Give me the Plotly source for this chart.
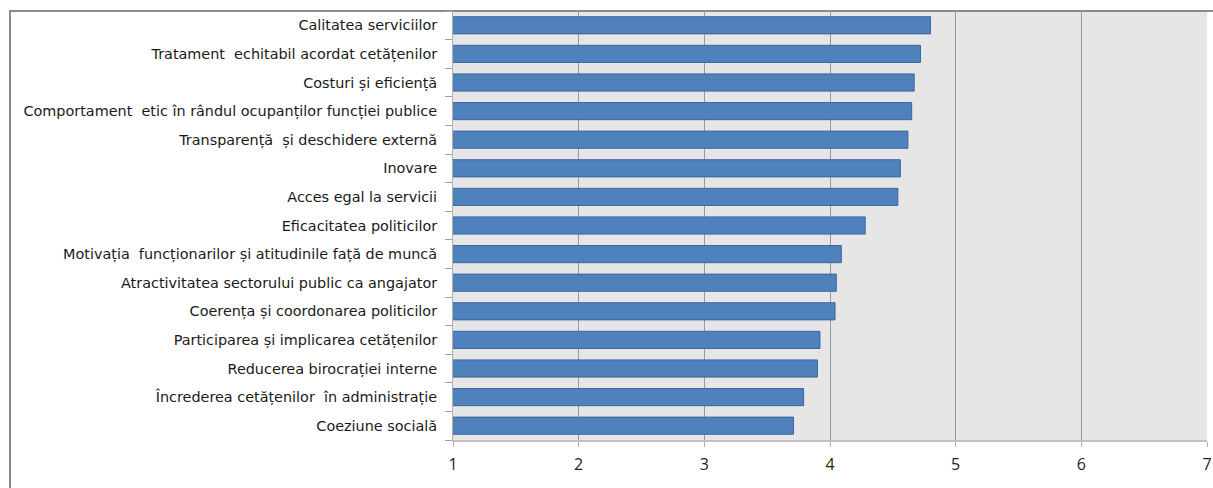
import plotly.graph_objects as go

categories = [
    "Calitatea serviciilor",
    "Tratament  echitabil acordat cetățenilor",
    "Costuri și eficiență",
    "Comportament  etic în rândul ocupanților funcției publice",
    "Transparență  și deschidere externă",
    "Inovare",
    "Acces egal la servicii",
    "Eficacitatea politicilor",
    "Motivația  funcționarilor și atitudinile față de muncă",
    "Atractivitatea sectorului public ca angajator",
    "Coerența și coordonarea politicilor",
    "Participarea și implicarea cetățenilor",
    "Reducerea birocrației interne",
    "Încrederea cetățenilor  în administrație",
    "Coeziune socială",
]
values = [4.80, 4.72, 4.67, 4.65, 4.62, 4.56, 4.54, 4.28, 4.09, 4.05, 4.04, 3.92, 3.90, 3.79, 3.71]
x_ticks = [1, 2, 3, 4, 5, 6, 7]

PLOT_W = 1213 - 453 - 6

fig = go.Figure()
fig.add_trace(go.Bar(
    y=categories,
    x=values,
    orientation="h",
    marker=dict(color="#4f81bd", line=dict(color="#3a679e", width=1)),
    width=0.6,
    hoverinfo="x+y",
))

fig.update_layout(
    width=1213,
    height=488,
    margin=dict(l=453, r=6, t=11, b=48, autoexpand=False),
    paper_bgcolor="white",
    plot_bgcolor="#e6e6e6",
    showlegend=False,
    xaxis=dict(
        range=[1, 7],
        tickvals=x_ticks,
        automargin=False,
        showgrid=True,
        gridcolor="#9a9a9a",
        gridwidth=1,
        zeroline=False,
        showline=True,
        linecolor="#c0c0c0",
        linewidth=2,
        ticks="outside",
        ticklen=5,
        tickcolor="#b0b0b0",
        ticklabelstandoff=4,
        tickfont=dict(family="Open Sans", size=16, color="#222222"),
        fixedrange=True,
    ),
    yaxis=dict(
        categoryorder="array",
        categoryarray=categories[::-1],
        autorange=False,
        range=[-0.5, len(categories) - 0.5],
        automargin=False,
        showgrid=False,
        showline=True,
        linecolor="#b0b0b0",
        linewidth=1,
        ticks="outside",
        tickson="boundaries",
        ticklen=7,
        tickcolor="#a0a0a0",
        ticklabelstandoff=12,
        tickfont=dict(family="DejaVu Sans", size=14.4, color="#1a1a1a"),
        fixedrange=True,
    ),
    shapes=[
        dict(
            type="rect", xref="paper", yref="paper",
            x0=(10 - 453) / PLOT_W, x1=(1230 - 453) / PLOT_W,
            y0=(440 - 520) / 429, y1=1.0,
            line=dict(color="#8a8a8a", width=2),
            fillcolor="rgba(0,0,0,0)",
            layer="below",
        )
    ],
)

fig.write_html("out.html")
